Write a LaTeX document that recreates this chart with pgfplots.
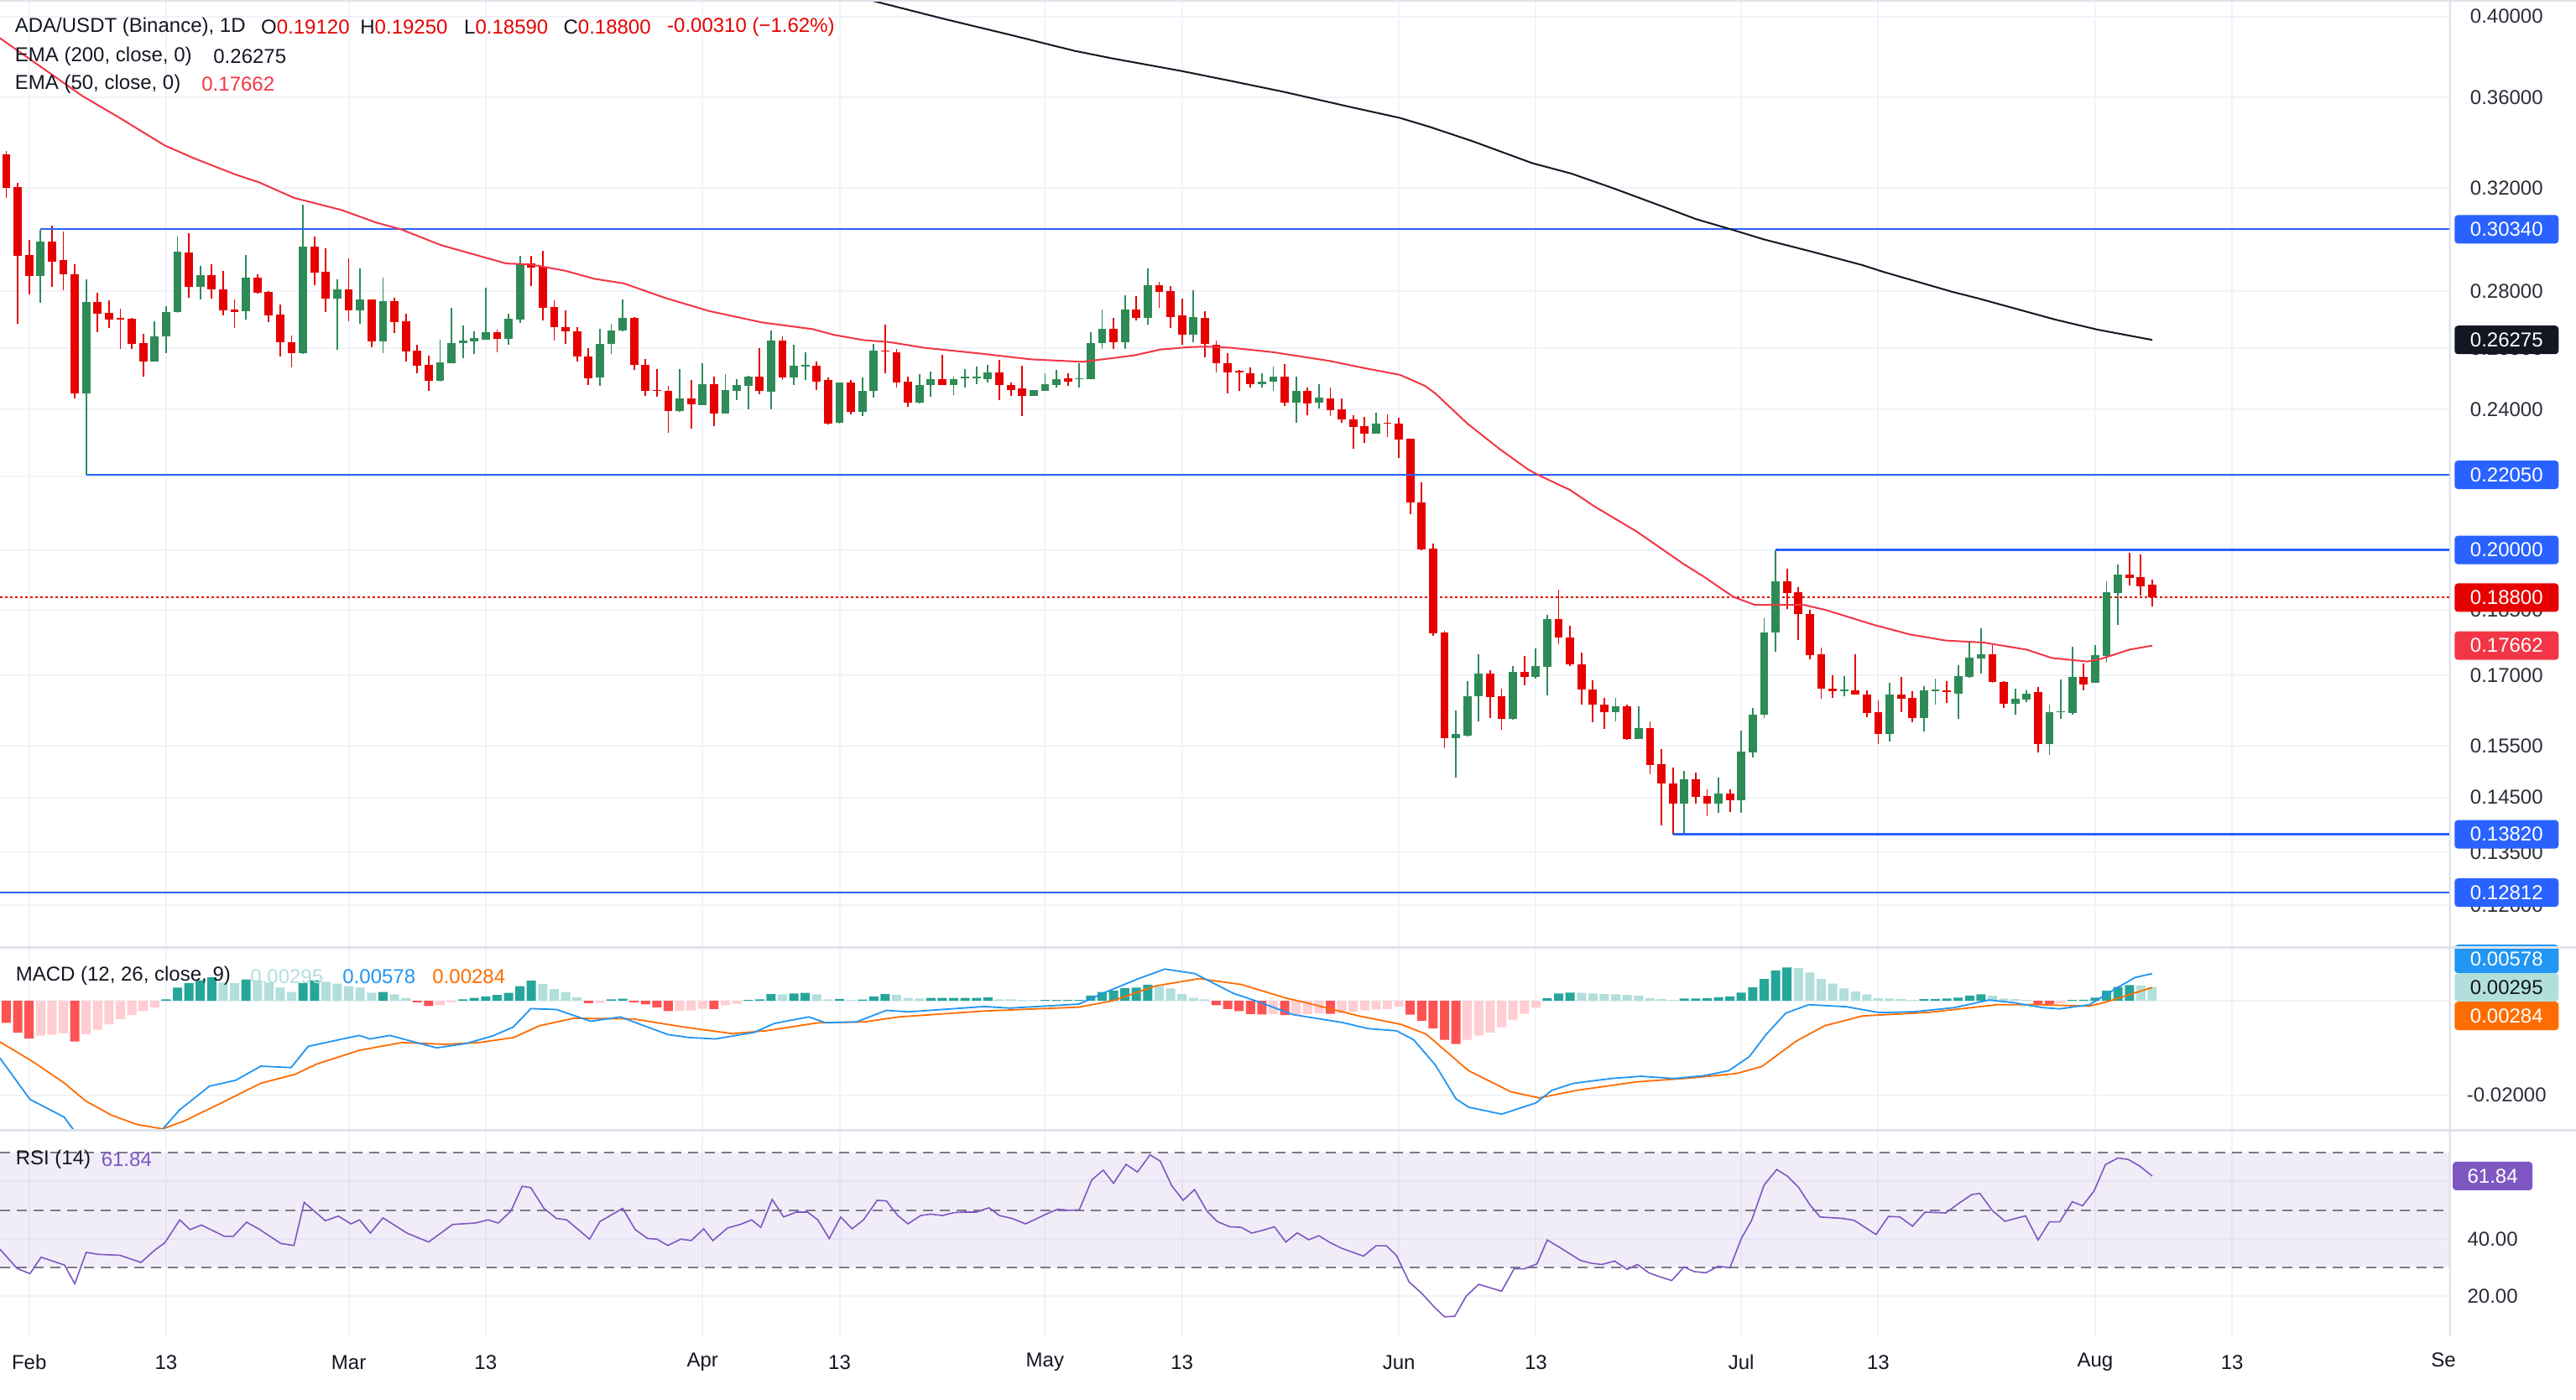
\documentclass[border=0pt]{standalone}
\usepackage{fontspec}
\setmainfont{Liberation Sans}
\usepackage{pgfplots}
\pgfplotsset{compat=1.18}
\definecolor{cR}{HTML}{E60000}
\definecolor{cG}{HTML}{2E8B57}
\definecolor{tvblue}{HTML}{2962FF}
\definecolor{emafifty}{HTML}{F23645}
\definecolor{ematwo}{HTML}{131722}
\definecolor{txtc}{HTML}{131722}
\definecolor{axtxt}{HTML}{2A2E39}
\definecolor{gridc}{HTML}{F0F3FA}
\definecolor{sepc}{HTML}{E0E3EB}
\definecolor{macdblue}{HTML}{2196F3}
\definecolor{sigorange}{HTML}{FF6D00}
\definecolor{hDG}{HTML}{26A69A}
\definecolor{hLG}{HTML}{B2DFDB}
\definecolor{hR}{HTML}{FF5252}
\definecolor{hP}{HTML}{FFCDD2}
\definecolor{rsic}{HTML}{7E57C2}
\definecolor{rsidash}{HTML}{787B86}
\newcommand{\fs}{\fontsize{12}{14}\selectfont}
\newcommand{\cndR}[5]{\addplot[cR, line width=0.9pt, forget plot] coordinates {(#1,#2) (#1,#3)};\addplot[cR, line width=4.9pt, forget plot] coordinates {(#1,#4) (#1,#5)};}
\newcommand{\cndG}[5]{\addplot[cG, line width=0.9pt, forget plot] coordinates {(#1,#2) (#1,#3)};\addplot[cG, line width=4.9pt, forget plot] coordinates {(#1,#4) (#1,#5)};}
\pgfplotsset{
 tv/.style={scale only axis, width=1460pt, xmin=-2.55, xmax=212.1,
   axis line style={draw=none}, tick style={draw=none},
   scaled x ticks=false, scaled y ticks=false,
   xtick={0,12,28,40,59,71,89,101,120,132,150,162,181,193,212},
   xticklabels={}, yticklabels={},
   xmajorgrids, ymajorgrids, grid style={gridc, line width=1pt},
   clip mode=individual, anchor=south west},
}
\tikzset{
 plab/.style={anchor=west, minimum width=62pt, minimum height=17pt, inner sep=0pt, text=axtxt, font=\fs},
 pbox/.style={anchor=west, minimum width=62pt, minimum height=17pt, inner sep=0pt, text=white, font=\fs, rounded corners=2pt},
 rlab/.style={anchor=west, minimum width=47.5pt, minimum height=17pt, inner sep=0pt, text=axtxt, font=\fs},
 dlab/.style={anchor=center, inner sep=0pt, text=txtc, font=\fs},
}
\begin{document}
\begin{tikzpicture}
\useasboundingbox (0,0) rectangle (1535pt,834.5pt);
\fill[white] (0,0) rectangle (1535pt,834.5pt);
% ================= PRICE PANEL =================
\begin{axis}[tv, at={(0pt,269.5pt)}, height=565pt, ymode=log, ymin=0.11924, ymax=0.4087,
  ytick={0.126,0.135,0.145,0.155,0.17,0.185,0.2,0.22,0.24,0.26,0.28,0.32,0.36,0.40}]
\draw[cR, line width=1pt, dash pattern=on 1.5pt off 1.5pt] (axis cs:-2.55,0.188) -- (axis cs:212.1,0.188);
\cndR{-2}{0.3160}{0.3358}{0.3202}{0.3343}
\cndR{-1}{0.2683}{0.3221}{0.2930}{0.3204}
\cndR{0}{0.2789}{0.2992}{0.2854}{0.2935}
\cndG{1}{0.2757}{0.3033}{0.2854}{0.2987}
\cndR{2}{0.2814}{0.3047}{0.2910}{0.2987}
\cndR{3}{0.2802}{0.3024}{0.2861}{0.2914}
\cndR{4}{0.2435}{0.2898}{0.2450}{0.2863}
\cndG{5}{0.2205}{0.2842}{0.2450}{0.2759}
\cndR{6}{0.2655}{0.2795}{0.2718}{0.2759}
\cndR{7}{0.2668}{0.2765}{0.2697}{0.2721}
\cndR{8}{0.2597}{0.2737}{0.2698}{0.2703}
\cndR{9}{0.2597}{0.2703}{0.2615}{0.2700}
\cndR{10}{0.2505}{0.2647}{0.2555}{0.2618}
\cndG{11}{0.2554}{0.2693}{0.2555}{0.2641}
\cndG{12}{0.2583}{0.2744}{0.2639}{0.2726}
\cndG{13}{0.2723}{0.3004}{0.2724}{0.2948}
\cndR{14}{0.2775}{0.3017}{0.2814}{0.2945}
\cndG{15}{0.2769}{0.2892}{0.2814}{0.2857}
\cndR{16}{0.2772}{0.2898}{0.2805}{0.2857}
\cndR{17}{0.2713}{0.2873}{0.2730}{0.2807}
\cndR{18}{0.2668}{0.2770}{0.2724}{0.2732}
\cndG{19}{0.2698}{0.2935}{0.2727}{0.2848}
\cndR{20}{0.2790}{0.2863}{0.2795}{0.2848}
\cndR{21}{0.2689}{0.2801}{0.2712}{0.2798}
\cndR{22}{0.2571}{0.2753}{0.2619}{0.2715}
\cndR{23}{0.2535}{0.2643}{0.2583}{0.2621}
\cndG{24}{0.2580}{0.3134}{0.2582}{0.2968}
\cndR{25}{0.2820}{0.3007}{0.2867}{0.2968}
\cndR{26}{0.2724}{0.2961}{0.2772}{0.2870}
\cndG{27}{0.2594}{0.2842}{0.2772}{0.2807}
\cndR{28}{0.2692}{0.2920}{0.2730}{0.2807}
\cndG{29}{0.2683}{0.2885}{0.2730}{0.2768}
\cndR{30}{0.2602}{0.2770}{0.2622}{0.2768}
\cndG{31}{0.2583}{0.2848}{0.2622}{0.2762}
\cndR{32}{0.2650}{0.2777}{0.2689}{0.2762}
\cndR{33}{0.2555}{0.2718}{0.2588}{0.2691}
\cndR{34}{0.2515}{0.2610}{0.2541}{0.2590}
\cndR{35}{0.2459}{0.2573}{0.2491}{0.2543}
\cndG{36}{0.2489}{0.2627}{0.2491}{0.2551}
\cndG{37}{0.2548}{0.2738}{0.2549}{0.2618}
\cndG{38}{0.2566}{0.2676}{0.2618}{0.2624}
\cndG{39}{0.2580}{0.2658}{0.2622}{0.2635}
\cndG{40}{0.2627}{0.2813}{0.2629}{0.2655}
\cndR{41}{0.2585}{0.2664}{0.2630}{0.2655}
\cndG{42}{0.2611}{0.2718}{0.2630}{0.2700}
\cndG{43}{0.2686}{0.2932}{0.2698}{0.2901}
\cndR{44}{0.2817}{0.2930}{0.2886}{0.2901}
\cndR{45}{0.2695}{0.2951}{0.2740}{0.2889}
\cndR{46}{0.2625}{0.2765}{0.2671}{0.2741}
\cndR{47}{0.2615}{0.2729}{0.2656}{0.2673}
\cndR{48}{0.2554}{0.2673}{0.2571}{0.2658}
\cndR{49}{0.2479}{0.2599}{0.2501}{0.2571}
\cndG{50}{0.2475}{0.2667}{0.2503}{0.2615}
\cndG{51}{0.2579}{0.2682}{0.2613}{0.2661}
\cndG{52}{0.2656}{0.2768}{0.2661}{0.2703}
\cndR{53}{0.2526}{0.2706}{0.2543}{0.2703}
\cndR{54}{0.2443}{0.2562}{0.2459}{0.2545}
\cndR{55}{0.2440}{0.2529}{0.2459}{0.2463}
\cndR{56}{0.2328}{0.2474}{0.2395}{0.2458}
\cndG{57}{0.2392}{0.2529}{0.2395}{0.2434}
\cndR{58}{0.2341}{0.2493}{0.2416}{0.2434}
\cndG{59}{0.2413}{0.2548}{0.2415}{0.2482}
\cndR{60}{0.2348}{0.2506}{0.2389}{0.2482}
\cndG{61}{0.2387}{0.2512}{0.2389}{0.2461}
\cndG{62}{0.2431}{0.2498}{0.2459}{0.2477}
\cndG{63}{0.2400}{0.2509}{0.2475}{0.2506}
\cndR{64}{0.2448}{0.2599}{0.2459}{0.2506}
\cndG{65}{0.2400}{0.2661}{0.2456}{0.2624}
\cndR{66}{0.2495}{0.2641}{0.2503}{0.2624}
\cndG{67}{0.2477}{0.2610}{0.2503}{0.2540}
\cndG{68}{0.2495}{0.2587}{0.2538}{0.2543}
\cndR{69}{0.2463}{0.2554}{0.2490}{0.2540}
\cndR{70}{0.2353}{0.2503}{0.2356}{0.2493}
\cndG{71}{0.2358}{0.2487}{0.2359}{0.2485}
\cndR{72}{0.2384}{0.2495}{0.2392}{0.2485}
\cndG{73}{0.2379}{0.2503}{0.2392}{0.2458}
\cndG{74}{0.2438}{0.2613}{0.2458}{0.2590}
\cndR{75}{0.2517}{0.2679}{0.2588}{0.2592}
\cndR{76}{0.2471}{0.2596}{0.2487}{0.2585}
\cndR{77}{0.2408}{0.2506}{0.2422}{0.2490}
\cndG{78}{0.2419}{0.2512}{0.2422}{0.2479}
\cndG{79}{0.2440}{0.2523}{0.2479}{0.2498}
\cndR{80}{0.2478}{0.2576}{0.2479}{0.2498}
\cndG{81}{0.2445}{0.2506}{0.2479}{0.2498}
\cndG{82}{0.2471}{0.2529}{0.2500}{0.2504}
\cndG{83}{0.2482}{0.2537}{0.2500}{0.2504}
\cndG{84}{0.2485}{0.2543}{0.2498}{0.2520}
\cndR{85}{0.2429}{0.2559}{0.2479}{0.2520}
\cndR{86}{0.2443}{0.2487}{0.2463}{0.2479}
\cndR{87}{0.2381}{0.2540}{0.2443}{0.2466}
\cndG{88}{0.2443}{0.2461}{0.2443}{0.2461}
\cndG{89}{0.2459}{0.2515}{0.2459}{0.2482}
\cndG{90}{0.2469}{0.2526}{0.2479}{0.2498}
\cndR{91}{0.2475}{0.2517}{0.2490}{0.2500}
\cndG{92}{0.2469}{0.2548}{0.2497}{0.2501}
\cndG{93}{0.2496}{0.2655}{0.2496}{0.2618}
\cndG{94}{0.2598}{0.2735}{0.2617}{0.2667}
\cndR{95}{0.2596}{0.2703}{0.2621}{0.2667}
\cndG{96}{0.2598}{0.2786}{0.2621}{0.2732}
\cndR{97}{0.2694}{0.2782}{0.2703}{0.2732}
\cndG{98}{0.2679}{0.2885}{0.2703}{0.2822}
\cndR{99}{0.2739}{0.2835}{0.2798}{0.2822}
\cndR{100}{0.2670}{0.2817}{0.2707}{0.2801}
\cndR{101}{0.2610}{0.2774}{0.2645}{0.2712}
\cndG{102}{0.2621}{0.2803}{0.2645}{0.2706}
\cndR{103}{0.2568}{0.2727}{0.2613}{0.2703}
\cndR{104}{0.2520}{0.2624}{0.2550}{0.2612}
\cndR{105}{0.2450}{0.2582}{0.2519}{0.2550}
\cndR{106}{0.2460}{0.2528}{0.2519}{0.2524}
\cndR{107}{0.2469}{0.2535}{0.2481}{0.2515}
\cndG{108}{0.2469}{0.2515}{0.2481}{0.2490}
\cndG{109}{0.2458}{0.2537}{0.2488}{0.2506}
\cndR{110}{0.2412}{0.2547}{0.2421}{0.2506}
\cndG{111}{0.2359}{0.2506}{0.2421}{0.2458}
\cndR{112}{0.2383}{0.2469}{0.2419}{0.2460}
\cndG{113}{0.2403}{0.2480}{0.2422}{0.2437}
\cndR{114}{0.2380}{0.2471}{0.2398}{0.2434}
\cndR{115}{0.2359}{0.2434}{0.2369}{0.2400}
\cndR{116}{0.2280}{0.2383}{0.2347}{0.2370}
\cndR{117}{0.2298}{0.2378}{0.2327}{0.2349}
\cndG{118}{0.2326}{0.2391}{0.2327}{0.2357}
\cndR{119}{0.2317}{0.2385}{0.2356}{0.2360}
\cndR{120}{0.2253}{0.2375}{0.2308}{0.2356}
\cndR{121}{0.2095}{0.2312}{0.2127}{0.2310}
\cndR{122}{0.2000}{0.2183}{0.2001}{0.2128}
\cndR{123}{0.1788}{0.2017}{0.1795}{0.2004}
\cndR{124}{0.1545}{0.1800}{0.1566}{0.1797}
\cndG{125}{0.1488}{0.1624}{0.1566}{0.1574}
\cndG{126}{0.1569}{0.1686}{0.1572}{0.1653}
\cndG{127}{0.1601}{0.1746}{0.1653}{0.1703}
\cndR{128}{0.1608}{0.1711}{0.1652}{0.1703}
\cndR{129}{0.1583}{0.1670}{0.1605}{0.1653}
\cndG{130}{0.1604}{0.1720}{0.1605}{0.1707}
\cndR{131}{0.1677}{0.1743}{0.1695}{0.1707}
\cndG{132}{0.1692}{0.1759}{0.1695}{0.1719}
\cndG{133}{0.1656}{0.1839}{0.1718}{0.1829}
\cndR{134}{0.1769}{0.1900}{0.1784}{0.1829}
\cndR{135}{0.1720}{0.1813}{0.1723}{0.1786}
\cndR{136}{0.1636}{0.1751}{0.1668}{0.1723}
\cndR{137}{0.1598}{0.1689}{0.1636}{0.1669}
\cndR{138}{0.1585}{0.1650}{0.1619}{0.1636}
\cndG{139}{0.1600}{0.1651}{0.1619}{0.1633}
\cndR{140}{0.1563}{0.1636}{0.1565}{0.1633}
\cndG{141}{0.1565}{0.1633}{0.1565}{0.1586}
\cndR{142}{0.1494}{0.1601}{0.1513}{0.1586}
\cndR{143}{0.1398}{0.1544}{0.1477}{0.1514}
\cndR{144}{0.1382}{0.1507}{0.1438}{0.1477}
\cndG{145}{0.1384}{0.1500}{0.1438}{0.1485}
\cndR{146}{0.1439}{0.1498}{0.1451}{0.1485}
\cndR{147}{0.1415}{0.1466}{0.1438}{0.1453}
\cndG{148}{0.1421}{0.1488}{0.1438}{0.1457}
\cndR{149}{0.1422}{0.1466}{0.1444}{0.1457}
\cndG{150}{0.1421}{0.1582}{0.1444}{0.1539}
\cndG{151}{0.1527}{0.1629}{0.1538}{0.1615}
\cndG{152}{0.1607}{0.1831}{0.1614}{0.1797}
\cndG{153}{0.1753}{0.2000}{0.1796}{0.1921}
\cndR{154}{0.1852}{0.1952}{0.1892}{0.1921}
\cndR{155}{0.1780}{0.1906}{0.1840}{0.1894}
\cndR{156}{0.1735}{0.1851}{0.1744}{0.1841}
\cndR{157}{0.1648}{0.1762}{0.1670}{0.1747}
\cndR{158}{0.1651}{0.1700}{0.1664}{0.1671}
\cndG{159}{0.1653}{0.1698}{0.1665}{0.1669}
\cndR{160}{0.1657}{0.1746}{0.1657}{0.1667}
\cndR{161}{0.1610}{0.1666}{0.1618}{0.1658}
\cndR{162}{0.1555}{0.1644}{0.1575}{0.1620}
\cndG{163}{0.1560}{0.1682}{0.1574}{0.1657}
\cndR{164}{0.1620}{0.1695}{0.1649}{0.1657}
\cndR{165}{0.1599}{0.1664}{0.1608}{0.1651}
\cndG{166}{0.1579}{0.1676}{0.1608}{0.1667}
\cndG{167}{0.1635}{0.1693}{0.1665}{0.1669}
\cndR{168}{0.1640}{0.1687}{0.1662}{0.1667}
\cndG{169}{0.1606}{0.1721}{0.1660}{0.1698}
\cndG{170}{0.1694}{0.1778}{0.1695}{0.1738}
\cndG{171}{0.1704}{0.1807}{0.1737}{0.1746}
\cndR{172}{0.1682}{0.1768}{0.1684}{0.1746}
\cndR{173}{0.1628}{0.1687}{0.1638}{0.1685}
\cndG{174}{0.1615}{0.1671}{0.1638}{0.1649}
\cndG{175}{0.1642}{0.1667}{0.1647}{0.1660}
\cndR{176}{0.1537}{0.1673}{0.1555}{0.1662}
\cndG{177}{0.1533}{0.1635}{0.1555}{0.1620}
\cndG{178}{0.1605}{0.1691}{0.1619}{0.1622}
\cndG{179}{0.1615}{0.1763}{0.1618}{0.1696}
\cndR{180}{0.1666}{0.1726}{0.1680}{0.1696}
\cndG{181}{0.1682}{0.1768}{0.1682}{0.1744}
\cndG{182}{0.1728}{0.1921}{0.1742}{0.1894}
\cndG{183}{0.1815}{0.1963}{0.1892}{0.1936}
\cndR{184}{0.1910}{0.1993}{0.1928}{0.1936}
\cndR{185}{0.1886}{0.1989}{0.1908}{0.1930}
\cndR{186}{0.1859}{0.1925}{0.1880}{0.1912}
% horizontal levels
\draw[tvblue, line width=1pt] (axis cs:1,0.3034) -- (axis cs:212.1,0.3034);
\draw[tvblue, line width=1pt] (axis cs:5,0.2205) -- (axis cs:212.1,0.2205);
\draw[tvblue, line width=1.6pt] (axis cs:153,0.2) -- (axis cs:212.1,0.2);
\draw[tvblue, line width=1.6pt] (axis cs:144,0.1382) -- (axis cs:212.1,0.1382);
\draw[tvblue, line width=1pt] (axis cs:-2.55,0.12812) -- (axis cs:212.1,0.12812);
% EMA 200
\addplot[ematwo, line width=1pt] coordinates {(70,0.4140) (73.96,0.4082) (80.3,0.3986) (85.95,0.3907) (91.6,0.3826) (94.96,0.3788) (100.95,0.3727) (105.4,0.3678) (109.96,0.3627) (115.9,0.3555) (120.06,0.3507) (122.7,0.3466) (126.5,0.3401) (131.7,0.3306) (135.1,0.3262) (138.8,0.3200) (143,0.3127) (146,0.3075) (149.3,0.3031) (152,0.2994) (156.1,0.2948) (160.6,0.2896) (162.5,0.2870) (168.5,0.2797) (170.7,0.2774) (177.5,0.2698) (181.2,0.2663) (186,0.26275)};
% EMA 50
\addplot[emafifty, line width=1pt] coordinates {(-2.55,0.3890) (1.06,0.3746) (4.67,0.3608) (8.02,0.3504) (11.89,0.3383) (14.47,0.3327) (18.07,0.3258) (20.14,0.3225) (23.23,0.3160) (27.36,0.3111) (30.45,0.3060) (32.5,0.3035) (36.1,0.2972) (41.8,0.2902) (43.86,0.2899) (46.95,0.2875) (49.5,0.2845) (52.1,0.2828) (55.8,0.2774) (59.6,0.2728) (64.2,0.2688) (68.6,0.2665) (70.5,0.2645) (73.1,0.2627) (75.4,0.2620) (78.4,0.2601) (83.2,0.2582) (87.8,0.2562) (92.3,0.2554) (95.1,0.2567) (96.9,0.2576) (99.1,0.2595) (101.6,0.2603) (103.1,0.2605) (105.3,0.2601) (109,0.2586) (113.9,0.2557) (117,0.2533) (120.1,0.2511) (122.3,0.2475) (123.2,0.2451) (126,0.2357) (128.8,0.2281) (131.3,0.2221) (132.2,0.2205) (135,0.2162) (137.1,0.2117) (140.8,0.2049) (145,0.1963) (146.6,0.1934) (149.3,0.1882) (151.2,0.1862) (153,0.1862) (155.5,0.1862) (157.4,0.1850) (161.7,0.1814) (164.8,0.1792) (167.9,0.1778) (171.3,0.1773) (175,0.1757) (177.2,0.1738) (180.3,0.1730) (181.5,0.1736) (184,0.1757) (186,0.17662)};
% right price scale
\node[plab] at (axis cs:212.46,0.40) {0.40000};
\node[plab] at (axis cs:212.46,0.36) {0.36000};
\node[plab] at (axis cs:212.46,0.32) {0.32000};
\node[plab] at (axis cs:212.46,0.28) {0.28000};
\node[plab] at (axis cs:212.46,0.26) {0.26000};
\node[plab] at (axis cs:212.46,0.24) {0.24000};
\node[plab] at (axis cs:212.46,0.22) {0.22000};
\node[plab] at (axis cs:212.46,0.185) {0.18500};
\node[plab] at (axis cs:212.46,0.17) {0.17000};
\node[plab] at (axis cs:212.46,0.155) {0.15500};
\node[plab] at (axis cs:212.46,0.145) {0.14500};
\node[plab] at (axis cs:212.46,0.135) {0.13500};
\node[plab] at (axis cs:212.46,0.126) {0.12600};
\node[pbox, fill=tvblue] at (axis cs:212.46,0.3034) {0.30340};
\node[pbox, fill=ematwo] at (axis cs:212.46,0.26275) {0.26275};
\node[pbox, fill=tvblue] at (axis cs:212.46,0.2205) {0.22050};
\node[pbox, fill=tvblue] at (axis cs:212.46,0.2) {0.20000};
\node[pbox, fill=emafifty] at (axis cs:212.46,0.17662) {0.17662};
\node[pbox, fill=cR] at (axis cs:212.46,0.188) {0.18800};
\node[pbox, fill=tvblue] at (axis cs:212.46,0.1382) {0.13820};
\node[pbox, fill=tvblue] at (axis cs:212.46,0.12812) {0.12812};
\end{axis}
% ================= MACD PANEL =================
\begin{axis}[tv, at={(0pt,160.5pt)}, height=109pt, ymin=-0.027554, ymax=0.011375, ytick={-0.02,0}]
\addplot[ybar, bar width=5.5pt, bar shift=0pt, fill=hDG, draw=none] coordinates {(12,0.00031)(13,0.00281)(14,0.00375)(15,0.00438)(16,0.005)(19,0.00456)(24,0.00375)(25,0.00438)(31,0.00188)(38,0.00031)(39,0.00063)(40,0.00094)(41,0.00125)(42,0.00169)(43,0.00313)(44,0.00425)(51,0.00031)(52,0.00044)(63,0.00019)(64,0.00031)(65,0.00144)(67,0.00156)(68,0.00169)(71,0.00038)(73,0.00025)(74,0.00094)(75,0.00144)(79,0.00063)(80,0.00063)(81,0.00063)(82,0.00063)(83,0.00063)(84,0.00075)(89,0.00019)(90,0.00019)(91,0.00019)(92,0.00019)(93,0.00113)(94,0.00188)(95,0.00219)(96,0.00269)(97,0.00281)(98,0.00344)(133,0.00054)(134,0.00155)(135,0.00173)(145,0.00048)(146,0.0005)(147,0.00052)(148,0.00077)(149,0.00095)(150,0.00173)(151,0.00286)(152,0.00464)(153,0.00643)(154,0.00708)(166,0.00036)(167,0.00038)(168,0.00048)(169,0.00065)(170,0.00113)(171,0.00137)(179,0.00018)(180,0.00024)(181,0.00065)(182,0.00214)(183,0.00292)(184,0.00333)};
\addplot[ybar, bar width=5.5pt, bar shift=0pt, fill=hLG, draw=none] coordinates {(17,0.00388)(18,0.00375)(20,0.00438)(21,0.00388)(22,0.00281)(23,0.00188)(26,0.00406)(27,0.00363)(28,0.00313)(29,0.00281)(30,0.00175)(32,0.00138)(33,0.00063)(45,0.00356)(46,0.0025)(47,0.00188)(48,0.00075)(66,0.00138)(69,0.00138)(70,0.00031)(72,0.00019)(76,0.00125)(77,0.00063)(78,0.0005)(85,0.00031)(86,0.00031)(87,0.00019)(88,0.00013)(99,0.00313)(100,0.00263)(101,0.00144)(102,0.00063)(103,0.00031)(136,0.00167)(137,0.00155)(138,0.00143)(139,0.00137)(140,0.00125)(141,0.00107)(142,0.00054)(143,0.00036)(144,0.00018)(155,0.00696)(156,0.00601)(157,0.00464)(158,0.00363)(159,0.00262)(160,0.00196)(161,0.00137)(162,0.00054)(163,0.00048)(164,0.00042)(165,0.00018)(172,0.00107)(173,0.00048)(174,0.00036)(175,0.00018)(185,0.00325)(186,0.00295)};
\addplot[ybar, bar width=5.5pt, bar shift=0pt, fill=hR, draw=none] coordinates {(-2,-0.00469)(-1,-0.00675)(0,-0.0080)(4,-0.00863)(34,-0.00031)(35,-0.00113)(49,-0.0005)(53,-0.00031)(54,-0.00075)(55,-0.00138)(56,-0.00219)(60,-0.00175)(104,-0.00094)(105,-0.00175)(106,-0.00219)(107,-0.00281)(108,-0.0029)(110,-0.00303)(114,-0.00274)(121,-0.00292)(122,-0.00422)(123,-0.00589)(124,-0.00827)(125,-0.00916)(176,-0.00071)(177,-0.00075)};
\addplot[ybar, bar width=5.5pt, bar shift=0pt, fill=hP, draw=none] coordinates {(1,-0.00738)(2,-0.00719)(3,-0.00688)(5,-0.00706)(6,-0.00613)(7,-0.005)(8,-0.00388)(9,-0.003)(10,-0.00219)(11,-0.00138)(36,-0.00094)(37,-0.00031)(50,-0.00044)(57,-0.00213)(58,-0.00206)(59,-0.00169)(61,-0.00094)(62,-0.00063)(109,-0.0028)(111,-0.00292)(112,-0.0028)(113,-0.00262)(115,-0.00262)(116,-0.00232)(117,-0.00202)(118,-0.00184)(119,-0.00173)(120,-0.00125)(126,-0.00827)(127,-0.00738)(128,-0.00678)(129,-0.00559)(130,-0.00399)(131,-0.00274)(132,-0.00143)(178,-0.00054)};
\addplot[sigorange, line width=0.9pt] coordinates {(-2.55,-0.00871) (0.45,-0.01309) (3.1,-0.01748) (4.95,-0.02123) (7.2,-0.02423) (9.45,-0.02623) (11.7,-0.02716) (13.6,-0.02548) (16.95,-0.02154) (20.3,-0.01748) (23.3,-0.01559) (25.2,-0.01341) (28.95,-0.01048) (32.7,-0.00884) (36.45,-0.00923) (39.45,-0.00884) (42.45,-0.00779) (44.7,-0.00529) (47.7,-0.00371) (52.95,-0.00384) (57.45,-0.00559) (61.6,-0.00696) (64.6,-0.00634) (69.1,-0.00466) (73.2,-0.00446) (76.2,-0.00341) (83.7,-0.00216) (91.96,-0.00134) (94.96,0.00003) (98.7,0.00316) (102.5,0.00471) (106.2,0.00346) (110,0.00066) (112.1,-0.00054) (116.5,-0.00321) (120.2,-0.005) (122.4,-0.00707) (126.1,-0.01482) (129.8,-0.01929) (132.3,-0.02059) (135.6,-0.01898) (140.8,-0.0172) (145.9,-0.0163) (149.6,-0.01541) (151.8,-0.01393) (154.8,-0.00857) (157.3,-0.00529) (160.6,-0.00321) (166.5,-0.00243) (170.2,-0.00143) (172.4,-0.00082) (176.1,-0.00082) (180.5,-0.00113) (182,-0.00023) (186,0.00284)};
\addplot[macdblue, line width=0.9pt] coordinates {(-2.55,-0.01216) (0.07,-0.0209) (3.07,-0.02466) (5,-0.031) (8,-0.034) (10.5,-0.031) (11.7,-0.0272) (13.2,-0.0231) (15.8,-0.0181) (18.1,-0.01685) (20.3,-0.01386) (22.95,-0.01416) (24.45,-0.00966) (27.45,-0.00809) (28.95,-0.00734) (29.85,-0.00809) (31.6,-0.00734) (35.7,-0.00998) (38.3,-0.00904) (40.6,-0.00746) (42.4,-0.00559) (43.96,-0.00166) (46.2,-0.00184) (49.2,-0.00434) (51.8,-0.00341) (55.96,-0.00716) (57.8,-0.00778) (60.1,-0.00809) (63.5,-0.00671) (65.3,-0.00479) (68.3,-0.00341) (69.8,-0.00466) (72.5,-0.00446) (75.1,-0.00202) (77,-0.00234) (83.7,-0.00121) (85.95,-0.00154) (91.96,-0.0007) (94.2,0.00173) (97.2,0.00471) (99.5,0.00673) (102.1,0.00579) (105.5,0.00159) (107.7,-0.0002) (110.7,-0.00291) (115.1,-0.00462) (117.3,-0.00589) (119.8,-0.00636) (121.3,-0.00827) (123.2,-0.01363) (125,-0.02077) (126.1,-0.02255) (129,-0.02404) (132,-0.02166) (133.4,-0.01898) (135.3,-0.0175) (138.6,-0.01648) (141.2,-0.016) (144.1,-0.01648) (146.7,-0.01589) (148.9,-0.01482) (150.7,-0.01184) (152.2,-0.00707) (153.9,-0.00261) (155.9,-0.00082) (159.2,-0.00125) (162.1,-0.0025) (165.1,-0.00232) (168.7,-0.00143) (171.7,0.00018) (173.9,-0.00041) (176.4,-0.00143) (177.9,-0.00171) (180.5,-0.00082) (182.7,0.00245) (184.5,0.00495) (186,0.00578)};
\node[plab] at (axis cs:212.46,-0.02) {-0.02000};
\node[pbox, fill=macdblue] at (axis cs:212.46,0.00888) {0.00578};
\node[pbox, fill=hLG, text=txtc] at (axis cs:212.46,0.00286) {0.00295};
\node[pbox, fill=sigorange] at (axis cs:212.46,-0.00321) {0.00284};
\end{axis}
% ================= RSI PANEL =================
\begin{axis}[tv, at={(0pt,38pt)}, height=122.5pt, ymin=6.15, ymax=77.58, ytick={20,40,60}]
\fill[rsic, fill opacity=0.1] (axis cs:-2.55,30) rectangle (axis cs:212.1,70);
\draw[rsidash, line width=1pt, dash pattern=on 6pt off 4pt] (axis cs:-2.55,70) -- (axis cs:212.1,70);
\draw[rsidash, line width=1pt, dash pattern=on 6pt off 4pt] (axis cs:-2.55,50) -- (axis cs:212.1,50);
\draw[rsidash, line width=1pt, dash pattern=on 6pt off 4pt] (axis cs:-2.55,30) -- (axis cs:212.1,30);
\addplot[rsic, line width=0.8pt] coordinates {(-2.55,36.4) (-1.05,29.7) (0.07,27.9) (1.05,33.6) (2.05,32.3) (3.1,30.9) (4,24.4) (5,35.3) (6.1,34.6) (7.95,34.3) (9.8,31.8) (10.95,35.9) (11.9,38.7) (13.2,46.6) (14.1,43.2) (15.1,44.8) (17.1,40.9) (17.9,40.9) (19.05,45.8) (20.1,43.5) (22.05,38.4) (23.2,37.7) (24.1,52.7) (25.95,46.3) (27.1,47.9) (28.2,45.2) (28.95,46.6) (29.9,42) (31,47.3) (33.1,42) (35,38.9) (37.1,45) (39.1,45.5) (40.2,46.6) (41.1,45.5) (42.2,49.6) (43.2,58.3) (43.95,57.8) (45.1,50.6) (46.2,47.1) (47.1,46.6) (49.1,39.9) (50,46) (52,50.6) (53.1,43.2) (54.2,40.1) (55,39.9) (55.95,37.7) (57.1,39.9) (58,39.4) (59.1,43.5) (59.9,39.4) (61.2,43.8) (62.3,45) (63.3,46.6) (64.1,44) (65.1,53.7) (66.1,47.6) (67.2,49.3) (68.2,49.3) (69.1,46.6) (70.1,40.1) (71.1,47.6) (72.1,43.5) (73.1,46.6) (74.3,53.4) (75.1,53.2) (76.1,48.1) (77,45.2) (78.1,48.1) (79,48.6) (80,48.1) (81,49.1) (82,49.3) (83,49.3) (84.1,50.8) (85,48.1) (86.1,47.1) (87.3,45.2) (88.2,46.9) (89.1,48.6) (90.1,50.3) (91.1,49.9) (92,50.1) (93.1,60.5) (94.1,63.9) (95,59.3) (96.1,65.9) (97.1,63.2) (98.2,69.2) (99.1,67) (100.1,58.5) (101.1,53.4) (102.1,57.1) (103.2,49.6) (104.1,46) (105.2,44.2) (106.2,44) (107.1,42) (108.1,43) (109.1,44.2) (110.1,38.9) (111.1,42.1) (112.1,39.7) (113,41.1) (113.97,38.7) (115,36.7) (116.9,34) (118,37.6) (118.9,37.6) (119.8,34.2) (120.9,25) (122,21.1) (123.1,16.3) (124,12.9) (124.9,13.1) (125.9,20.1) (127,24.2) (129,21.8) (130.1,29.6) (131,29.6) (132.1,31.3) (133,39.6) (134.1,37) (135.9,32.5) (136.9,31.5) (137.8,31.1) (138.9,32.3) (140,29.4) (140.9,31.1) (141.9,28.2) (142.8,26.9) (143.9,25.5) (144.98,30.2) (145.9,28.6) (146.9,28.2) (148,30.5) (149,29.9) (150,40.1) (150.9,46.4) (152,58.7) (153.1,64.1) (154,61.9) (155,58) (156,51.9) (156.9,47.6) (158.9,47.1) (159.9,46.4) (160.8,44.1) (161.8,41.5) (162.9,47.8) (163.9,47.6) (165,44.4) (166.1,49.3) (167.9,49) (169,52.2) (170.2,55.4) (170.9,55.8) (172,49.8) (173.1,46.1) (174.9,48) (176,39.6) (177,45.9) (177.9,45.9) (179,52.9) (179.9,51.5) (180.9,56.6) (181.9,65.8) (183,68.1) (183.9,67.6) (184.9,65.3) (186,61.84)};
\node[rlab] at (axis cs:212.3,40) {40.00};
\node[rlab] at (axis cs:212.3,20) {20.00};
\node[rlab] at (axis cs:212.3,60) {60.00};
\node[rlab, fill=rsic, text=white, rounded corners=2pt] at (axis cs:212.3,61.84) {61.84};
% date labels
\node[dlab] at ([yshift=-15.5pt]axis cs:0,6.15) {Feb};
\node[dlab] at ([yshift=-15.5pt]axis cs:12,6.15) {13};
\node[dlab] at ([yshift=-15.5pt]axis cs:28,6.15) {Mar};
\node[dlab] at ([yshift=-15.5pt]axis cs:40,6.15) {13};
\node[dlab] at ([yshift=-15.5pt]axis cs:59,6.15) {Apr};
\node[dlab] at ([yshift=-15.5pt]axis cs:71,6.15) {13};
\node[dlab] at ([yshift=-15.5pt]axis cs:89,6.15) {May};
\node[dlab] at ([yshift=-15.5pt]axis cs:101,6.15) {13};
\node[dlab] at ([yshift=-15.5pt]axis cs:120,6.15) {Jun};
\node[dlab] at ([yshift=-15.5pt]axis cs:132,6.15) {13};
\node[dlab] at ([yshift=-15.5pt]axis cs:150,6.15) {Jul};
\node[dlab] at ([yshift=-15.5pt]axis cs:162,6.15) {13};
\node[dlab] at ([yshift=-15.5pt]axis cs:181,6.15) {Aug};
\node[dlab] at ([yshift=-15.5pt]axis cs:193,6.15) {13};
\node[dlab] at ([yshift=-15.5pt]axis cs:212,6.15) {Sep};
\end{axis}
\fill[white] (1463pt,0pt) rectangle (1535pt,37pt);
% separators
\draw[sepc, line width=1.5pt] (0pt,269.5pt) -- (1535pt,269.5pt);
\draw[sepc, line width=1.5pt] (0pt,160.5pt) -- (1535pt,160.5pt);
\draw[sepc, line width=1.2pt] (1460pt,38pt) -- (1460pt,834.5pt);
\draw[sepc, line width=1pt] (0pt,833.8pt) -- (1535pt,833.8pt);
% legends
\node[anchor=west, inner sep=0pt, text=txtc, font=\fs] at (8.75pt,818.25pt) {ADA/USDT (Binance), 1D};
\node[anchor=west, inner sep=0pt, font=\fs] at (155.4pt,818.25pt) {\textcolor{txtc}{O}\textcolor{cR}{0.19120}};
\node[anchor=west, inner sep=0pt, font=\fs] at (214.5pt,818.25pt) {\textcolor{txtc}{H}\textcolor{cR}{0.19250}};
\node[anchor=west, inner sep=0pt, font=\fs] at (276.4pt,818.25pt) {\textcolor{txtc}{L}\textcolor{cR}{0.18590}};
\node[anchor=west, inner sep=0pt, font=\fs] at (335.6pt,818.25pt) {\textcolor{txtc}{C}\textcolor{cR}{0.18800}};
\node[anchor=west, inner sep=0pt, font=\fs, text=cR] at (397.4pt,818.25pt) {-0.00310 (−1.62\%)};
\node[anchor=west, inner sep=0pt, text=txtc, font=\fs] at (8.75pt,801pt) {EMA (200, close, 0)};
\node[anchor=west, inner sep=0pt, text=txtc, font=\fs] at (127pt,801pt) {0.26275};
\node[anchor=west, inner sep=0pt, text=txtc, font=\fs] at (8.75pt,784.2pt) {EMA (50, close, 0)};
\node[anchor=west, inner sep=0pt, text=emafifty, font=\fs] at (120pt,784.2pt) {0.17662};
\node[anchor=west, inner sep=0pt, text=txtc, font=\fs] at (9.2pt,252.6pt) {MACD (12, 26, close, 9)};
\node[anchor=west, inner sep=0pt, text=hLG, font=\fs] at (149pt,252.6pt) {0.00295};
\node[anchor=west, inner sep=0pt, text=macdblue, font=\fs] at (204pt,252.6pt) {0.00578};
\node[anchor=west, inner sep=0pt, text=sigorange, font=\fs] at (257.5pt,252.6pt) {0.00284};
\node[anchor=west, inner sep=0pt, text=txtc, font=\fs] at (9.2pt,143.2pt) {RSI (14)};
\node[anchor=west, inner sep=0pt, text=rsic, font=\fs] at (60.2pt,143.2pt) {61.84};
\end{tikzpicture}
\end{document}
